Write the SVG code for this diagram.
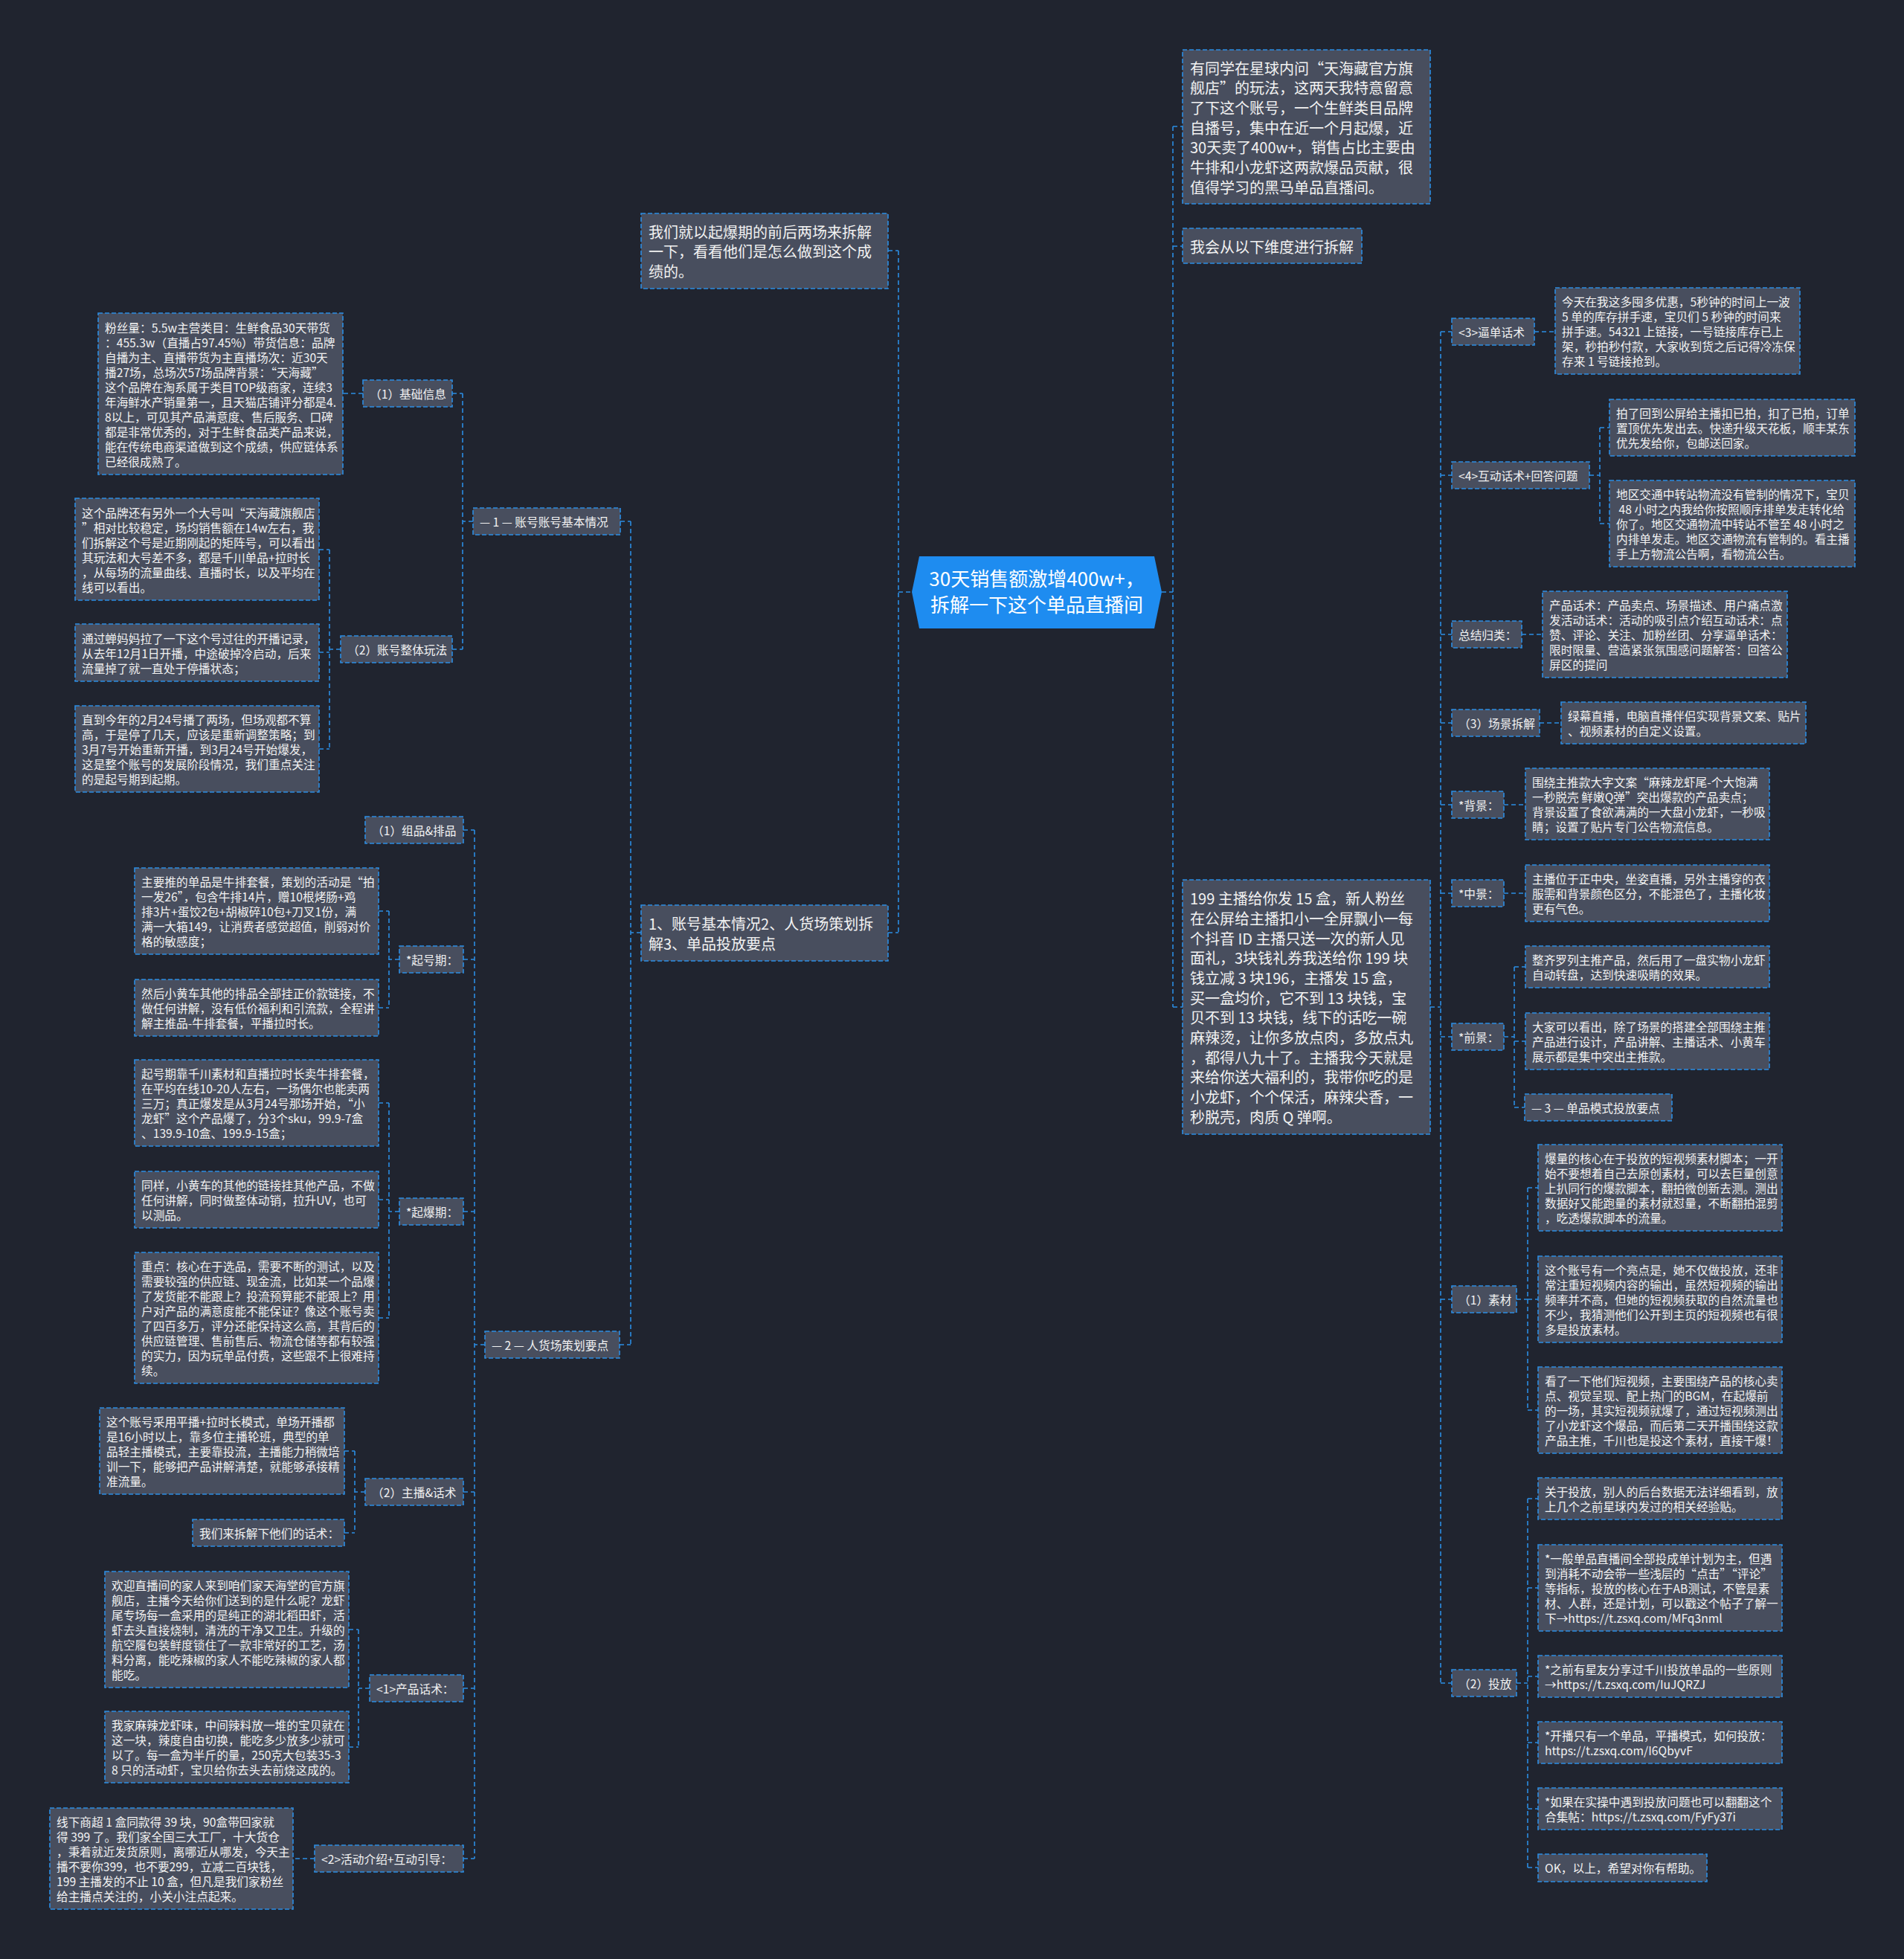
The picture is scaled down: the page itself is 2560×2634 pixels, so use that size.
<svg xmlns="http://www.w3.org/2000/svg" width="2560" height="2634" viewBox="0 0 2560 2634">
<style>
.n{fill:#484e5e;stroke:#2b8de3;stroke-width:1.6;stroke-dasharray:6 3}
.c{fill:none;stroke:#2b8de3;stroke-width:1.6;stroke-dasharray:6 4}
.t{font-family:"Noto Sans CJK SC","Microsoft YaHei",sans-serif;font-size:15.7px;fill:#f2f2f2}
.tl{font-size:20px}
.tr{font-size:26px;fill:#ffffff;text-anchor:middle}
.root{fill:#1e8cf0}
</style>
<rect x="0" y="0" width="2560" height="2634" fill="#20242f"/>
<g id="connectors">
<path class="c" d="M1208,796H1226M1208,337V1254M1194,337H1208M1194,1254H1208"/>
<path class="c" d="M862,1254H848M848,701V1808M834,701H848M833,1808H848"/>
<path class="c" d="M636,701H622M622,529V873M608,529H622M608,873H622M488,529H461"/>
<path class="c" d="M458,873H443M443,739V1007M429,739H443M429,877H443M429,1007H443"/>
<path class="c" d="M652,1808H638M638,1116V2499M623,1116H638M623,1290H638M623,1629H638M623,2006H638M623,2270H638M623,2499H638"/>
<path class="c" d="M537,1290H523M523,1225V1355M509,1225H523M509,1355H523"/>
<path class="c" d="M537,1629H523M523,1483V1772M509,1483H523M509,1613H523M509,1772H523"/>
<path class="c" d="M491,2006H477M477,1951V2061M463,1951H477M463,2061H477"/>
<path class="c" d="M497,2270H482M482,2191V2349M469,2191H482M469,2349H482M423,2499H394"/>
<path class="c" d="M1562,796H1577M1577,170V1354M1577,170H1590M1577,331H1590M1577,1354H1590"/>
<path class="c" d="M1923,1354H1937M1937,446V2263M1937,446H1952M1937,639H1952M1937,853H1952M1937,972H1952M1937,1082H1952M1937,1201H1952M1937,1394H1952M1937,1747H1952M1937,2263H1952"/>
<path class="c" d="M2063,446H2091M2137,639H2151M2151,575V704M2151,575H2164M2151,704H2164M2046,853H2074M2070,972H2099M2022,1082H2051M2022,1201H2051"/>
<path class="c" d="M2022,1394H2036M2036,1300V1489M2036,1300H2051M2036,1400H2051M2036,1489H2051"/>
<path class="c" d="M2039,1747H2054M2054,1597V1896M2054,1597H2068M2054,1747H2068M2054,1896H2068"/>
<path class="c" d="M2039,2263H2054M2054,2015V2511M2054,2015H2068M2054,2135H2068M2054,2254H2068M2054,2343H2068M2054,2432H2068M2054,2511H2068"/>
</g>
<g id="root"><polygon class="root" points="1236,748 1552,748 1562,796 1552,845 1236,845 1226,796"/><text class="t tr" x="1394" y="787.5">30天销售额激增400w+，<tspan x="1394" dy="35">拆解一下这个单品直播间</tspan></text></g>
<g id="n-we"><rect class="n" x="862" y="287" width="332" height="101"/><text class="t tl" x="872" y="319.8">我们就以起爆期的前后两场来拆解<tspan x="872" dy="26.67">一下，看看他们是怎么做到这个成</tspan><tspan x="872" dy="26.67">绩的。</tspan></text></g>
<g id="n-outline"><rect class="n" x="862" y="1217" width="332" height="75"/><text class="t tl" x="872" y="1250.2">1、账号基本情况2、人货场策划拆<tspan x="872" dy="26.67">解3、单品投放要点</tspan></text></g>
<g id="n-yt"><rect class="n" x="1590" y="67" width="333" height="207"/><text class="t tl" x="1600" y="99.5">有同学在星球内问“天海藏官方旗<tspan x="1600" dy="26.67">舰店”的玩法，这两天我特意留意</tspan><tspan x="1600" dy="26.67">了下这个账号，一个生鲜类目品牌</tspan><tspan x="1600" dy="26.67">自播号，集中在近一个月起爆，近</tspan><tspan x="1600" dy="26.67">30天卖了400w+，销售占比主要由</tspan><tspan x="1600" dy="26.67">牛排和小龙虾这两款爆品贡献，很</tspan><tspan x="1600" dy="26.67">值得学习的黑马单品直播间。</tspan></text></g>
<g id="n-wh"><rect class="n" x="1590" y="307" width="241" height="47"/><text class="t tl" x="1600" y="339.5">我会从以下维度进行拆解</text></g>
<g id="n-199"><rect class="n" x="1590" y="1183" width="333" height="342"/><text class="t tl" x="1600" y="1216.3">199 主播给你发 15 盒，新人粉丝<tspan x="1600" dy="26.67">在公屏给主播扣小一全屏飘小一每</tspan><tspan x="1600" dy="26.67">个抖音 ID 主播只送一次的新人见</tspan><tspan x="1600" dy="26.67">面礼，3块钱礼券我送给你 199 块</tspan><tspan x="1600" dy="26.67">钱立减 3 块196，主播发 15 盒，</tspan><tspan x="1600" dy="26.67">买一盒均价，它不到 13 块钱，宝</tspan><tspan x="1600" dy="26.67">贝不到 13 块钱，线下的话吃一碗</tspan><tspan x="1600" dy="26.67">麻辣烫，让你多放点肉，多放点丸</tspan><tspan x="1600" dy="26.67">，都得八九十了。主播我今天就是</tspan><tspan x="1600" dy="26.67">来给你送大福利的，我带你吃的是</tspan><tspan x="1600" dy="26.67">小龙虾，个个保活，麻辣尖香，一</tspan><tspan x="1600" dy="26.67">秒脱壳，肉质 Q 弹啊。</tspan></text></g>
<g id="n-1"><rect class="n" x="636" y="683" width="198" height="36"/><text class="t" x="645" y="708">— 1 — 账号账号基本情况</text></g>
<g id="n-jc"><rect class="n" x="488" y="511" width="120" height="36"/><text class="t" x="497" y="536">（1）基础信息</text></g>
<g id="n-fs"><rect class="n" x="132" y="421" width="329" height="217"/><text class="t" x="141" y="446.5">粉丝量：5.5w主营类目：生鲜食品30天带货<tspan x="141" dy="20">：455.3w（直播占97.45%）带货信息：品牌</tspan><tspan x="141" dy="20">自播为主、直播带货为主直播场次：近30天</tspan><tspan x="141" dy="20">播27场，总场次57场品牌背景：“天海藏”</tspan><tspan x="141" dy="20">这个品牌在淘系属于类目TOP级商家，连续3</tspan><tspan x="141" dy="20">年海鲜水产销量第一，且天猫店铺评分都是4.</tspan><tspan x="141" dy="20">8以上，可见其产品满意度、售后服务、口碑</tspan><tspan x="141" dy="20">都是非常优秀的，对于生鲜食品类产品来说，</tspan><tspan x="141" dy="20">能在传统电商渠道做到这个成绩，供应链体系</tspan><tspan x="141" dy="20">已经很成熟了。</tspan></text></g>
<g id="n-zh"><rect class="n" x="458" y="855" width="150" height="36"/><text class="t" x="467" y="880">（2）账号整体玩法</text></g>
<g id="n-a"><rect class="n" x="101" y="670" width="328" height="137"/><text class="t" x="110" y="695.5">这个品牌还有另外一个大号叫“天海藏旗舰店<tspan x="110" dy="20">”相对比较稳定，场均销售额在14w左右，我</tspan><tspan x="110" dy="20">们拆解这个号是近期刚起的矩阵号，可以看出</tspan><tspan x="110" dy="20">其玩法和大号差不多，都是千川单品+拉时长</tspan><tspan x="110" dy="20">，从每场的流量曲线、直播时长，以及平均在</tspan><tspan x="110" dy="20">线可以看出。</tspan></text></g>
<g id="n-b"><rect class="n" x="101" y="839" width="328" height="77"/><text class="t" x="110" y="864.5">通过蝉妈妈拉了一下这个号过往的开播记录，<tspan x="110" dy="20">从去年12月1日开播，中途破掉冷启动，后来</tspan><tspan x="110" dy="20">流量掉了就一直处于停播状态；</tspan></text></g>
<g id="n-c"><rect class="n" x="101" y="949" width="328" height="116"/><text class="t" x="110" y="974">直到今年的2月24号播了两场，但场观都不算<tspan x="110" dy="20">高，于是停了几天，应该是重新调整策略；到</tspan><tspan x="110" dy="20">3月7号开始重新开播，到3月24号开始爆发，</tspan><tspan x="110" dy="20">这是整个账号的发展阶段情况，我们重点关注</tspan><tspan x="110" dy="20">的是起号期到起期。</tspan></text></g>
<g id="n-2"><rect class="n" x="652" y="1790" width="181" height="36"/><text class="t" x="661" y="1815">— 2 — 人货场策划要点</text></g>
<g id="n-zp"><rect class="n" x="491" y="1098" width="132" height="36"/><text class="t" x="500" y="1123">（1）组品&amp;排品</text></g>
<g id="n-qh"><rect class="n" x="537" y="1272" width="86" height="36"/><text class="t" x="546" y="1297">*起号期：</text></g>
<g id="n-zy"><rect class="n" x="181" y="1167" width="328" height="116"/><text class="t" x="190" y="1192">主要推的单品是牛排套餐，策划的活动是“拍<tspan x="190" dy="20">一发26”，包含牛排14片，赠10根烤肠+鸡</tspan><tspan x="190" dy="20">排3片+蛋饺2包+胡椒碎10包+刀叉1份，满</tspan><tspan x="190" dy="20">满一大箱149，让消费者感觉超值，削弱对价</tspan><tspan x="190" dy="20">格的敏感度；</tspan></text></g>
<g id="n-rh"><rect class="n" x="181" y="1317" width="328" height="76"/><text class="t" x="190" y="1342">然后小黄车其他的排品全部挂正价款链接，不<tspan x="190" dy="20">做任何讲解，没有低价福利和引流款，全程讲</tspan><tspan x="190" dy="20">解主推品-牛排套餐，平播拉时长。</tspan></text></g>
<g id="n-qb"><rect class="n" x="537" y="1611" width="86" height="36"/><text class="t" x="546" y="1636">*起爆期：</text></g>
<g id="n-qk"><rect class="n" x="181" y="1425" width="328" height="116"/><text class="t" x="190" y="1450">起号期靠千川素材和直播拉时长卖牛排套餐，<tspan x="190" dy="20">在平均在线10-20人左右，一场偶尔也能卖两</tspan><tspan x="190" dy="20">三万；真正爆发是从3月24号那场开始，“小</tspan><tspan x="190" dy="20">龙虾”这个产品爆了，分3个sku，99.9-7盒</tspan><tspan x="190" dy="20">、139.9-10盒、199.9-15盒；</tspan></text></g>
<g id="n-ty"><rect class="n" x="181" y="1575" width="328" height="76"/><text class="t" x="190" y="1600">同样，小黄车的其他的链接挂其他产品，不做<tspan x="190" dy="20">任何讲解，同时做整体动销，拉升UV，也可</tspan><tspan x="190" dy="20">以测品。</tspan></text></g>
<g id="n-zd"><rect class="n" x="181" y="1684" width="328" height="176"/><text class="t" x="190" y="1709">重点：核心在于选品，需要不断的测试，以及<tspan x="190" dy="20">需要较强的供应链、现金流，比如某一个品爆</tspan><tspan x="190" dy="20">了发货能不能跟上？投流预算能不能跟上？用</tspan><tspan x="190" dy="20">户对产品的满意度能不能保证？像这个账号卖</tspan><tspan x="190" dy="20">了四百多万，评分还能保持这么高，其背后的</tspan><tspan x="190" dy="20">供应链管理、售前售后、物流仓储等都有较强</tspan><tspan x="190" dy="20">的实力，因为玩单品付费，这些跟不上很难持</tspan><tspan x="190" dy="20">续。</tspan></text></g>
<g id="n-zb"><rect class="n" x="491" y="1988" width="132" height="36"/><text class="t" x="500" y="2013">（2）主播&amp;话术</text></g>
<g id="n-pb"><rect class="n" x="134" y="1893" width="329" height="116"/><text class="t" x="143" y="1918">这个账号采用平播+拉时长模式，单场开播都<tspan x="143" dy="20">是16小时以上，靠多位主播轮班，典型的单</tspan><tspan x="143" dy="20">品轻主播模式，主要靠投流，主播能力稍微培</tspan><tspan x="143" dy="20">训一下，能够把产品讲解清楚，就能够承接精</tspan><tspan x="143" dy="20">准流量。</tspan></text></g>
<g id="n-cj"><rect class="n" x="259" y="2043" width="204" height="36"/><text class="t" x="268" y="2068">我们来拆解下他们的话术：</text></g>
<g id="n-cp"><rect class="n" x="497" y="2252" width="126" height="36"/><text class="t" x="506" y="2277">&lt;1&gt;产品话术：</text></g>
<g id="n-hy"><rect class="n" x="141" y="2113" width="328" height="156"/><text class="t" x="150" y="2138">欢迎直播间的家人来到咱们家天海堂的官方旗<tspan x="150" dy="20">舰店，主播今天给你们送到的是什么呢？龙虾</tspan><tspan x="150" dy="20">尾专场每一盒采用的是纯正的湖北稻田虾，活</tspan><tspan x="150" dy="20">虾去头直接烧制，清洗的干净又卫生。升级的</tspan><tspan x="150" dy="20">航空履包装鲜度锁住了一款非常好的工艺，汤</tspan><tspan x="150" dy="20">料分离，能吃辣椒的家人不能吃辣椒的家人都</tspan><tspan x="150" dy="20">能吃。</tspan></text></g>
<g id="n-mj"><rect class="n" x="141" y="2301" width="328" height="96"/><text class="t" x="150" y="2326">我家麻辣龙虾味，中间辣料放一堆的宝贝就在<tspan x="150" dy="20">这一块，辣度自由切换，能吃多少放多少就可</tspan><tspan x="150" dy="20">以了。每一盒为半斤的量，250克大包装35-3</tspan><tspan x="150" dy="20">8 只的活动虾，宝贝给你去头去前烧这成的。</tspan></text></g>
<g id="n-hd"><rect class="n" x="423" y="2481" width="200" height="36"/><text class="t" x="432" y="2506">&lt;2&gt;活动介绍+互动引导：</text></g>
<g id="n-xx"><rect class="n" x="67" y="2431" width="327" height="136"/><text class="t" x="76" y="2456">线下商超 1 盒同款得 39 块，90盒带回家就<tspan x="76" dy="20">得 399 了。我们家全国三大工厂，十大货仓</tspan><tspan x="76" dy="20">，秉着就近发货原则，离哪近从哪发，今天主</tspan><tspan x="76" dy="20">播不要你399，也不要299，立减二百块钱，</tspan><tspan x="76" dy="20">199 主播发的不止 10 盒，但凡是我们家粉丝</tspan><tspan x="76" dy="20">给主播点关注的，小关小注点起来。</tspan></text></g>
<g id="n-r3"><rect class="n" x="1952" y="428" width="111" height="36"/><text class="t" x="1961" y="453">&lt;3&gt;逼单话术</text></g>
<g id="n-jt"><rect class="n" x="2091" y="387" width="329" height="116"/><text class="t" x="2100" y="412">今天在我这多囤多优惠，5秒钟的时间上一波<tspan x="2100" dy="20">5 单的库存拼手速，宝贝们 5 秒钟的时间来</tspan><tspan x="2100" dy="20">拼手速。54321 上链接，一号链接库存已上</tspan><tspan x="2100" dy="20">架，秒拍秒付款，大家收到货之后记得冷冻保</tspan><tspan x="2100" dy="20">存来 1 号链接抢到。</tspan></text></g>
<g id="n-r4"><rect class="n" x="1952" y="621" width="185" height="36"/><text class="t" x="1961" y="646">&lt;4&gt;互动话术+回答问题</text></g>
<g id="n-pl"><rect class="n" x="2164" y="537" width="330" height="76"/><text class="t" x="2173" y="562">拍了回到公屏给主播扣已拍，扣了已拍，订单<tspan x="2173" dy="20">置顶优先发出去。快递升级天花板，顺丰某东</tspan><tspan x="2173" dy="20">优先发给你，包邮送回家。</tspan></text></g>
<g id="n-dq"><rect class="n" x="2164" y="646" width="330" height="116"/><text class="t" x="2173" y="671">地区交通中转站物流没有管制的情况下，宝贝<tspan x="2173" dy="20"> 48 小时之内我给你按照顺序排单发走转化给</tspan><tspan x="2173" dy="20">你了。地区交通物流中转站不管至 48 小时之</tspan><tspan x="2173" dy="20">内排单发走。地区交通物流有管制的。看主播</tspan><tspan x="2173" dy="20">手上方物流公告啊，看物流公告。</tspan></text></g>
<g id="n-zj"><rect class="n" x="1952" y="835" width="94" height="36"/><text class="t" x="1961" y="860">总结归类：</text></g>
<g id="n-cph"><rect class="n" x="2074" y="795" width="329" height="116"/><text class="t" x="2083" y="820">产品话术：产品卖点、场景描述、用户痛点激<tspan x="2083" dy="20">发活动话术：活动的吸引点介绍互动话术：点</tspan><tspan x="2083" dy="20">赞、评论、关注、加粉丝团、分享逼单话术：</tspan><tspan x="2083" dy="20">限时限量、营造紧张氛围感问题解答：回答公</tspan><tspan x="2083" dy="20">屏区的提问</tspan></text></g>
<g id="n-cj3"><rect class="n" x="1952" y="954" width="118" height="36"/><text class="t" x="1961" y="979">（3）场景拆解</text></g>
<g id="n-lm"><rect class="n" x="2099" y="944" width="329" height="56"/><text class="t" x="2108" y="969">绿幕直播，电脑直播伴侣实现背景文案、贴片<tspan x="2108" dy="20">、视频素材的自定义设置。</tspan></text></g>
<g id="n-bj"><rect class="n" x="1952" y="1064" width="70" height="36"/><text class="t" x="1961" y="1089">*背景：</text></g>
<g id="n-wr"><rect class="n" x="2051" y="1033" width="328" height="96"/><text class="t" x="2060" y="1058">围绕主推款大字文案“麻辣龙虾尾-个大饱满<tspan x="2060" dy="20">一秒脱壳 鲜嫩Q弹”突出爆款的产品卖点；</tspan><tspan x="2060" dy="20">背景设置了食欲满满的一大盘小龙虾，一秒吸</tspan><tspan x="2060" dy="20">睛；设置了贴片专门公告物流信息。</tspan></text></g>
<g id="n-zjing"><rect class="n" x="1952" y="1183" width="70" height="36"/><text class="t" x="1961" y="1208">*中景：</text></g>
<g id="n-zbw"><rect class="n" x="2051" y="1163" width="328" height="76"/><text class="t" x="2060" y="1188">主播位于正中央，坐姿直播，另外主播穿的衣<tspan x="2060" dy="20">服需和背景颜色区分，不能混色了，主播化妆</tspan><tspan x="2060" dy="20">更有气色。</tspan></text></g>
<g id="n-qj"><rect class="n" x="1952" y="1376" width="70" height="36"/><text class="t" x="1961" y="1401">*前景：</text></g>
<g id="n-zq"><rect class="n" x="2051" y="1272" width="328" height="56"/><text class="t" x="2060" y="1297">整齐罗列主推产品，然后用了一盘实物小龙虾<tspan x="2060" dy="20">自动转盘，达到快速吸睛的效果。</tspan></text></g>
<g id="n-dj"><rect class="n" x="2051" y="1362" width="328" height="76"/><text class="t" x="2060" y="1387">大家可以看出，除了场景的搭建全部围绕主推<tspan x="2060" dy="20">产品进行设计，产品讲解、主播话术、小黄车</tspan><tspan x="2060" dy="20">展示都是集中突出主推款。</tspan></text></g>
<g id="n-3"><rect class="n" x="2050" y="1471" width="198" height="36"/><text class="t" x="2059" y="1496">— 3 — 单品模式投放要点</text></g>
<g id="n-sc"><rect class="n" x="1952" y="1729" width="87" height="36"/><text class="t" x="1961" y="1754">（1）素材</text></g>
<g id="n-bl"><rect class="n" x="2068" y="1539" width="328" height="116"/><text class="t" x="2077" y="1564">爆量的核心在于投放的短视频素材脚本；一开<tspan x="2077" dy="20">始不要想着自己去原创素材，可以去巨量创意</tspan><tspan x="2077" dy="20">上扒同行的爆款脚本，翻拍微创新去测。测出</tspan><tspan x="2077" dy="20">数据好又能跑量的素材就怼量，不断翻拍混剪</tspan><tspan x="2077" dy="20">，吃透爆款脚本的流量。</tspan></text></g>
<g id="n-ld"><rect class="n" x="2068" y="1689" width="328" height="116"/><text class="t" x="2077" y="1714">这个账号有一个亮点是，她不仅做投放，还非<tspan x="2077" dy="20">常注重短视频内容的输出，虽然短视频的输出</tspan><tspan x="2077" dy="20">频率并不高，但她的短视频获取的自然流量也</tspan><tspan x="2077" dy="20">不少，我猜测他们公开到主页的短视频也有很</tspan><tspan x="2077" dy="20">多是投放素材。</tspan></text></g>
<g id="n-kl"><rect class="n" x="2068" y="1838" width="328" height="116"/><text class="t" x="2077" y="1863">看了一下他们短视频，主要围绕产品的核心卖<tspan x="2077" dy="20">点、视觉呈现、配上热门的BGM，在起爆前</tspan><tspan x="2077" dy="20">的一场，其实短视频就爆了，通过短视频测出</tspan><tspan x="2077" dy="20">了小龙虾这个爆品，而后第二天开播围绕这款</tspan><tspan x="2077" dy="20">产品主推，千川也是投这个素材，直接干爆！</tspan></text></g>
<g id="n-tf"><rect class="n" x="1952" y="2245" width="87" height="36"/><text class="t" x="1961" y="2270">（2）投放</text></g>
<g id="n-gy"><rect class="n" x="2068" y="1987" width="328" height="56"/><text class="t" x="2077" y="2012">关于投放，别人的后台数据无法详细看到，放<tspan x="2077" dy="20">上几个之前星球内发过的相关经验贴。</tspan></text></g>
<g id="n-yb"><rect class="n" x="2068" y="2077" width="328" height="116"/><text class="t" x="2077" y="2102">*一般单品直播间全部投成单计划为主，但遇<tspan x="2077" dy="20">到消耗不动会带一些浅层的“点击”“评论”</tspan><tspan x="2077" dy="20">等指标，投放的核心在于AB测试，不管是素</tspan><tspan x="2077" dy="20">材、人群，还是计划，可以戳这个帖子了解一</tspan><tspan x="2077" dy="20">下→https://t.zsxq.com/MFq3nml</tspan></text></g>
<g id="n-zq2"><rect class="n" x="2068" y="2226" width="328" height="56"/><text class="t" x="2077" y="2251">*之前有星友分享过千川投放单品的一些原则<tspan x="2077" dy="20">→https://t.zsxq.com/IuJQRZJ</tspan></text></g>
<g id="n-kb"><rect class="n" x="2068" y="2315" width="328" height="56"/><text class="t" x="2077" y="2340">*开播只有一个单品，平播模式，如何投放：<tspan x="2077" dy="20">https://t.zsxq.com/I6QbyvF</tspan></text></g>
<g id="n-rg"><rect class="n" x="2068" y="2404" width="328" height="56"/><text class="t" x="2077" y="2429">*如果在实操中遇到投放问题也可以翻翻这个<tspan x="2077" dy="20">合集帖：https://t.zsxq.com/FyFy37i</tspan></text></g>
<g id="n-ok"><rect class="n" x="2068" y="2493" width="227" height="37"/><text class="t" x="2077" y="2518">OK，以上，希望对你有帮助。</text></g>
</svg>
